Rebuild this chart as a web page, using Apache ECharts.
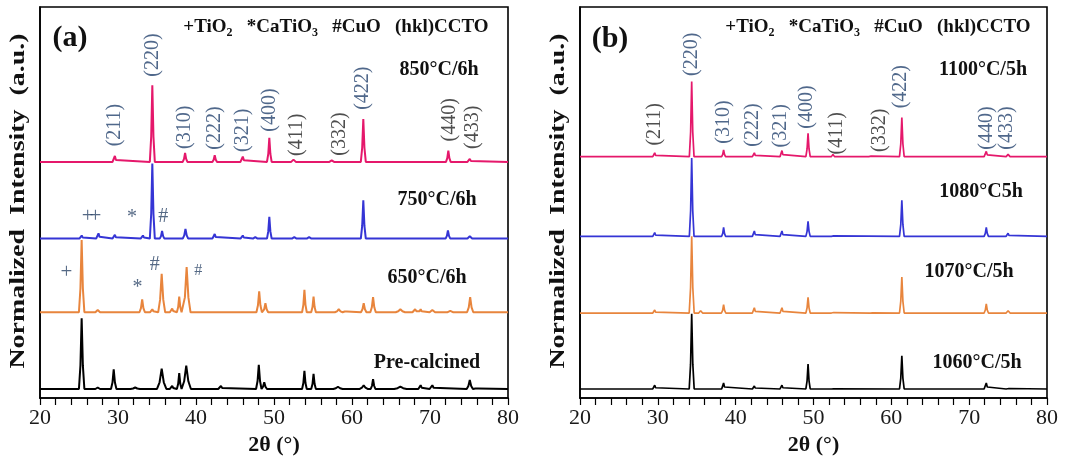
<!DOCTYPE html>
<html>
<head>
<meta charset="utf-8">
<script src="https://cdn.jsdelivr.net/npm/echarts@6/dist/echarts.min.js"></script>
<style>
html,body{margin:0;padding:0;background:#fff;}
#c{width:1078px;height:465px;}
</style>
</head>
<body>
<div id="c"></div>
<script>
// ---------------- DATA ----------------
// x axis (2θ) ticks
const xTicks = [20, 30, 40, 50, 60, 70, 80];

// Peaks of each pattern: [2θ (°), intensity above baseline (a.u.), half base width (°)]
// Panel (a)
const precalcined = [
  [25.34, 94, 0.35], [27.4, 2, 0.30], [29.45, 26, 0.35], [32.2, 2, 0.60], [35.6, 27, 0.60],
  [36.95, 4, 0.30], [37.85, 21, 0.30], [38.75, 31, 0.60], [43.2, 4, 0.35], [48.05, 32, 0.35],
  [48.75, 9, 0.35], [53.9, 24, 0.30], [55.07, 20, 0.30], [58.2, 3, 0.60], [61.5, 5, 0.50],
  [62.7, 13, 0.30], [66.2, 3, 0.80], [68.8, 5, 0.30], [70.3, 5, 0.35], [75.1, 12, 0.40], [76.0, 2, 0.40]
];
const c650 = [
  [25.34, 96, 0.35], [27.4, 3, 0.30], [33.1, 17, 0.35], [34.4, 4, 0.30], [35.6, 51, 0.45],
  [36.95, 5, 0.30], [37.85, 21, 0.30], [38.8, 60, 0.50], [48.1, 28, 0.35], [48.9, 12, 0.35],
  [53.9, 30, 0.30], [55.07, 21, 0.30], [58.3, 4, 0.50], [59.2, 3, 0.30], [61.5, 12, 0.35],
  [62.7, 20, 0.35], [66.2, 4, 0.60], [68.1, 4, 0.35], [68.8, 4, 0.30], [70.3, 3, 0.35],
  [72.6, 2, 0.40], [75.15, 20, 0.40]
];
const c750 = [
  [25.35, 4, 0.30], [27.5, 7, 0.30], [29.6, 5, 0.30], [33.2, 4, 0.30], [34.4, 100, 0.32],
  [35.65, 10, 0.30], [38.65, 13, 0.35], [42.4, 6, 0.30], [46.0, 4, 0.30], [47.6, 2, 0.30],
  [49.4, 29, 0.30], [52.6, 2, 0.30], [54.5, 2, 0.30], [61.45, 51, 0.32], [72.3, 11, 0.30], [75.1, 3, 0.30]
];
const c850 = [
  [29.6, 8, 0.30], [34.4, 102, 0.32], [38.6, 12, 0.30], [42.4, 9, 0.30], [46.0, 7, 0.30],
  [49.4, 32, 0.30], [52.5, 3, 0.30], [57.4, 2, 0.30], [61.45, 57, 0.32], [72.35, 15, 0.30], [75.1, 4, 0.30]
];
// Panel (b)
const c1060 = [
  [29.6, 5, 0.25], [34.35, 100, 0.32], [38.45, 8, 0.25], [42.4, 4, 0.25], [45.95, 5, 0.25],
  [49.3, 33, 0.28], [52.5, 1, 0.20], [61.35, 44, 0.30], [72.2, 8, 0.28], [75.0, 2, 0.25]
];
const c1070 = [
  [29.6, 4, 0.25], [34.35, 102, 0.32], [35.5, 3, 0.25], [38.45, 11, 0.28], [42.4, 7, 0.25],
  [45.95, 7, 0.25], [49.3, 21, 0.28], [52.5, 2, 0.20], [57.5, 1, 0.20], [61.35, 48, 0.30],
  [72.2, 12, 0.28], [75.0, 3, 0.25]
];
const c1080 = [
  [29.6, 5, 0.25], [34.35, 104, 0.30], [38.45, 12, 0.25], [42.4, 7, 0.25], [45.95, 7, 0.25],
  [49.3, 20, 0.28], [52.5, 2, 0.20], [61.35, 48, 0.30], [72.2, 12, 0.28], [75.0, 4, 0.25]
];
const c1100 = [
  [29.6, 5, 0.25], [34.35, 100, 0.30], [38.45, 9, 0.25], [42.4, 5, 0.25], [45.95, 8, 0.25],
  [49.3, 31, 0.28], [52.5, 3, 0.20], [57.3, 2, 0.20], [61.35, 52, 0.30], [72.2, 7, 0.28], [75.0, 3, 0.25]
];

// stacking offsets of the patterns (a.u.)
const offsetsA = [12, 114, 212, 314];   // pre-calcined, 650, 750, 850
const offsetsB = [12, 113, 215, 321];   // 1060, 1070, 1080, 1100
const namesA = ['Pre-calcined', '650°C/6h', '750°C/6h', '850°C/6h'];
const namesB = ['1060°C/5h', '1070°C/5h', '1080°C5h', '1100°C/5h'];

// CCTO reflections
const hkl = ['(211)', '(220)', '(310)', '(222)', '(321)', '(400)', '(411)', '(332)', '(422)', '(440)', '(433)'];
const yTitle = 'Normalized  Intensity  (a.u.)';
const xTitle = '2θ (°)';

// ---------------- STYLE / LAYOUT ----------------
const FONT = "'Liberation Serif','Times New Roman',serif";
const colors = ['#000000', '#E8853D', '#3535D5', '#E5186B'];
const NAVY = '#24426E', DARK = '#222222';
const Y_MAX = 520;

const hklPosA = [[29.6,363],[34.4,456],[38.58,360],[42.42,359],[46.0,356],[49.47,383],[52.93,350],[58.44,351],[61.38,412],[72.5,370],[75.48,360]];
const hklColA = [NAVY,NAVY,NAVY,NAVY,NAVY,NAVY,DARK,DARK,NAVY,DARK,DARK];
const hklPosB = [[29.64,364],[34.36,457],[38.51,367],[42.24,363],[45.8,362],[49.15,387],[53.0,352],[58.57,356],[61.27,414],[72.2,359],[74.86,359]];
const hklColB = [DARK,NAVY,NAVY,NAVY,NAVY,NAVY,DARK,DARK,NAVY,NAVY,NAVY];

// phase markers (panel a): [symbol, 2θ, y, fontSize]
const markersA = [
  ['+', 26.1, 241, 21], ['+', 27.1, 241, 21], ['*', 31.8, 240, 20], ['#', 35.8, 241, 20],
  ['+', 23.4, 167, 21], ['*', 32.5, 147, 20], ['#', 34.7, 177, 20], ['#', 40.3, 169, 16]
];

function buildTrace(peaks, offset) {
  const pts = [[20, offset]];
  peaks.forEach(([p, h, w]) => {
    pts.push([p - w, offset], [p - w * 0.45, offset + h * 0.33], [p, offset + h],
             [p + w * 0.45, offset + h * 0.33], [p + w, offset]);
  });
  pts.push([80, offset]);
  return pts;
}

function xAxisOf(i) {
  return {
    type: 'value', gridIndex: i, min: xTicks[0], max: xTicks[xTicks.length - 1],
    interval: xTicks[1] - xTicks[0],
    axisLine: { show: true, lineStyle: { color: '#000', width: 1.6 } },
    axisTick: { show: true, inside: false, length: 7, lineStyle: { color: '#000', width: 1.2 } },
    minorTick: { show: true, splitNumber: 5, length: 7, lineStyle: { color: '#000', width: 1.2 } },
    splitLine: { show: false }, minorSplitLine: { show: false },
    axisLabel: { fontFamily: FONT, fontSize: 22, color: '#1a1a1a', margin: 9 },
    name: xTitle, nameLocation: 'middle', nameGap: 34,
    nameTextStyle: { fontFamily: FONT, fontSize: 22, fontWeight: 'bold', color: '#111' }
  };
}
function yAxisOf(i) {
  return {
    type: 'value', gridIndex: i, min: 0, max: Y_MAX,
    axisLine: { show: true, lineStyle: { color: '#000', width: 1.6 } },
    axisTick: { show: false }, axisLabel: { show: false }, splitLine: { show: false }
  };
}

const series = [];
[precalcined, c650, c750, c850].forEach((pk, k) => {
  series.push({ type: 'line', name: namesA[k], xAxisIndex: 0, yAxisIndex: 0, data: buildTrace(pk, offsetsA[k]),
    showSymbol: false, symbol: 'none', lineStyle: { color: colors[k], width: 2 }, z: 3 + k });
});
[c1060, c1070, c1080, c1100].forEach((pk, k) => {
  series.push({ type: 'line', name: namesB[k], xAxisIndex: 1, yAxisIndex: 1, data: buildTrace(pk, offsetsB[k]),
    showSymbol: false, symbol: 'none', lineStyle: { color: colors[k], width: 1.7 }, z: 3 + k });
});

function hklSeries(axis, pos, cols) {
  return {
    type: 'scatter', xAxisIndex: axis, yAxisIndex: axis, symbolSize: 0, silent: true, z: 10,
    data: pos.map((p, i) => ({
      value: p, name: hkl[i],
      label: { show: true, formatter: hkl[i], rotate: 90, position: [0, 0], align: 'center', verticalAlign: 'middle',
        fontFamily: FONT, fontSize: 20, color: cols[i] }
    }))
  };
}
series.push(hklSeries(0, hklPosA, hklColA));
series.push(hklSeries(1, hklPosB, hklColB));
series.push({
  type: 'scatter', xAxisIndex: 0, yAxisIndex: 0, symbolSize: 0, silent: true, z: 10,
  data: markersA.map(m => ({
    value: [m[1], m[2]],
    label: { show: true, formatter: m[0], position: [0, 0], align: 'center', verticalAlign: 'middle',
      fontFamily: FONT, fontSize: m[3], color: '#2A4466' }
  }))
});

function txt(x, y, t, size, extra, el) {
  return Object.assign({ type: 'text', x: x, y: y, z: 20, silent: true,
    style: Object.assign({ text: t, fontFamily: FONT, fontSize: size, fontWeight: 'bold', fill: '#111',
      align: 'center', verticalAlign: 'middle' }, extra || {}) }, el || {});
}
const legendText = '{m|+TiO}{s|2}{m|   *CaTiO}{s|3}{m|   #CuO   (hkl)CCTO}';
const legendRich = {
  m: { fontFamily: FONT, fontSize: 19, fontWeight: 'bold', color: '#111', lineHeight: 24, verticalAlign: 'middle' },
  s: { fontFamily: FONT, fontSize: 12, fontWeight: 'bold', color: '#111', lineHeight: 24, verticalAlign: 'bottom' }
};
const graphic = [
  txt(70, 38, '(a)', 30), txt(610, 39, '(b)', 30),
  txt(336, 27, legendText, 19, { rich: legendRich }),
  txt(878, 27, legendText, 19, { rich: legendRich }),
  txt(439, 70, namesA[3], 20), txt(437, 200, namesA[2], 20), txt(427, 278, namesA[1], 20), txt(427, 363, namesA[0], 20),
  txt(983, 70, namesB[3], 20), txt(981, 192, namesB[2], 20), txt(969, 272, namesB[1], 20), txt(977, 363, namesB[0], 20),
  txt(19, 201, yTitle, 21, null, { rotation: Math.PI / 2, scaleX: 1.33 }),
  txt(559, 201, yTitle, 21, null, { rotation: Math.PI / 2, scaleX: 1.33 })
];

const chart = echarts.init(document.getElementById('c'), null, { renderer: 'canvas' });
chart.setOption({
  animation: false,
  backgroundColor: '#fff',
  grid: [
    { left: 40, top: 7, width: 468, height: 391, show: true, borderColor: '#000', borderWidth: 1.6, backgroundColor: 'transparent' },
    { left: 580, top: 7, width: 467, height: 391, show: true, borderColor: '#000', borderWidth: 1.6, backgroundColor: 'transparent' }
  ],
  xAxis: [xAxisOf(0), xAxisOf(1)],
  yAxis: [yAxisOf(0), yAxisOf(1)],
  series: series,
  graphic: graphic
});
</script>
</body>
</html>
